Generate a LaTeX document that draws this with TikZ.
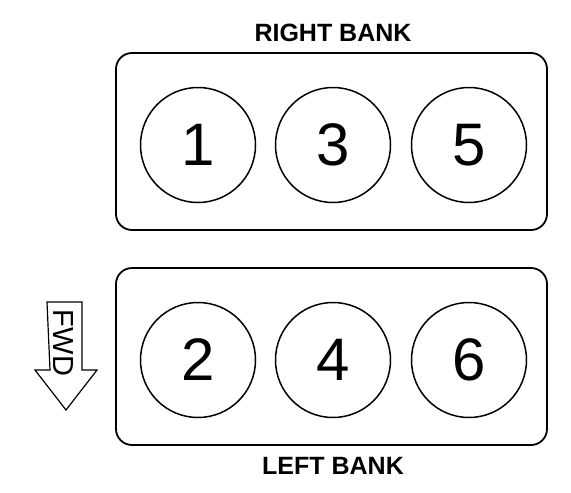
\documentclass[tikz,border=0pt]{standalone}
\usepackage{fontspec}
\setmainfont{Liberation Sans}
\begin{document}
\begin{tikzpicture}[x=1pt,y=-1pt,
  bank/.style={draw,line width=1.8pt,rounded corners=16pt,minimum width=431pt,minimum height=177pt,inner sep=0pt},
  cyl/.style={draw,line width=1.5pt,circle,minimum size=115pt,inner sep=0pt,font=\fontsize{60}{60}\selectfont},
  banklabel/.style={font=\bfseries\fontsize{25}{25}\selectfont,inner sep=0pt}]
\useasboundingbox (0,0) rectangle (571,493);
\node[bank] (rb) at (331.5,141.5) {};
\node[bank] (lb) at (331.5,356.5) {};
\node[cyl] (c1) at (198,145) {1};
\node[cyl] (c3) at (333,145) {3};
\node[cyl] (c5) at (469,145) {5};
\node[cyl] (c2) at (198,360) {2};
\node[cyl] (c4) at (333,360) {4};
\node[cyl] (c6) at (469,360) {6};
\node[banklabel] (rl) at (333,33) {RIGHT BANK};
\node[banklabel] (ll) at (333,466) {LEFT BANK};
\draw[line width=1.2pt,line join=miter]
  (47,302) -- (82,302) -- (82,370) -- (97,370) -- (66,410) -- (35,370) -- (50,370) -- cycle;
\node[rotate=-90,font=\fontsize{29}{29}\selectfont,inner sep=0pt] (fwd) at (63,343) {FWD};
\end{tikzpicture}
\end{document}
